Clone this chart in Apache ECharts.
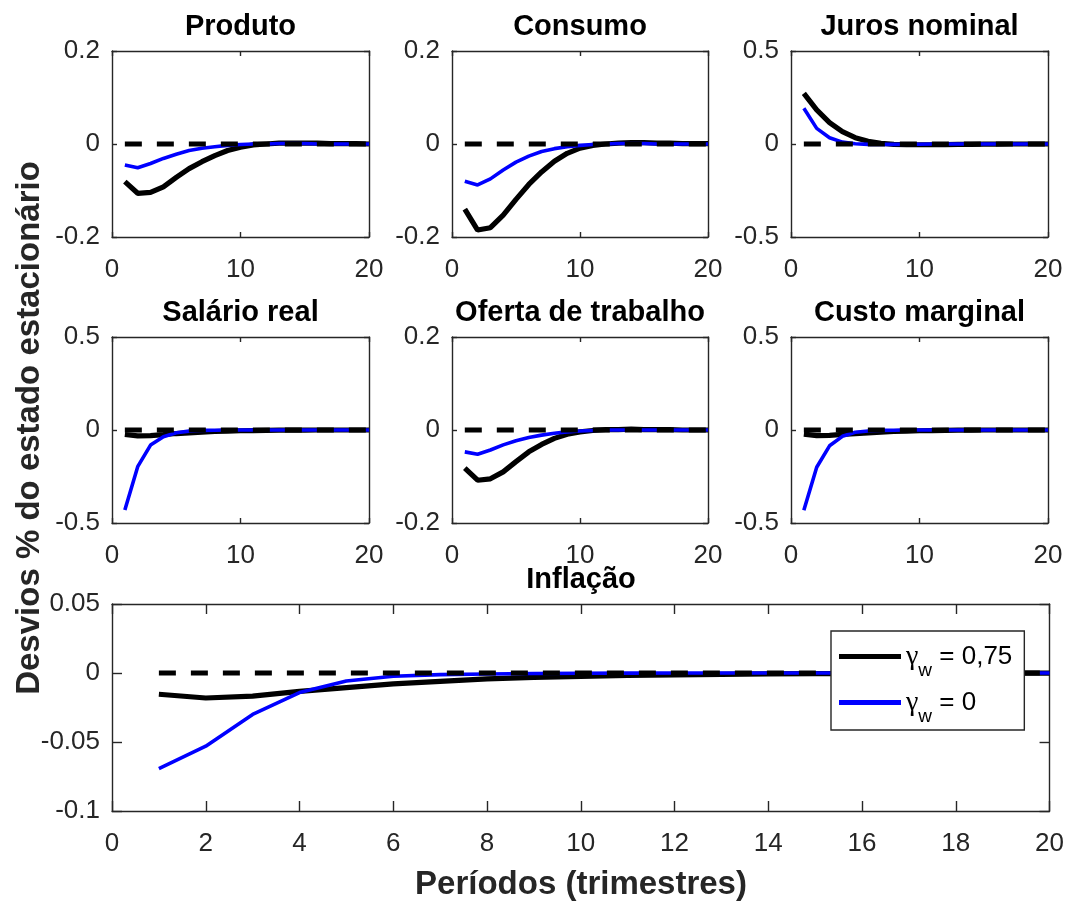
<!DOCTYPE html>
<html><head><meta charset="utf-8">
<script src="https://cdn.jsdelivr.net/npm/echarts@6/dist/echarts.min.js"></script>
<style>html,body{margin:0;padding:0;background:#fff}#c{width:1067px;height:901px}</style>
</head><body><div id="c"></div>
<script>
// ---------- data ----------
const periods = [1,2,3,4,5,6,7,8,9,10,11,12,13,14,15,16,17,18,19,20];
const zeroLine = [0,0,0,0,0,0,0,0,0,0,0,0,0,0,0,0,0,0,0,0];
const seriesNames = ['γw = 0,75', 'γw = 0'];
const panelTitles = ['Produto','Consumo','Juros nominal','Salário real','Oferta de trabalho','Custo marginal','Inflação'];
const yAxisTitle = 'Desvios % do estado estacionário';
const xAxisTitle = 'Períodos (trimestres)';

const produtoBlack = [-0.081,-0.106,-0.104,-0.092,-0.072,-0.053,-0.038,-0.025,-0.014,-0.007,-0.002,0.000,0.002,0.002,0.002,0.002,0.001,0.001,0.001,0.000];
const produtoBlue  = [-0.045,-0.051,-0.042,-0.031,-0.022,-0.014,-0.009,-0.006,-0.003,-0.001,0.000,0.000,0.001,0.001,0.001,0.000,0.000,0.000,0.000,0.000];
const consumoBlack = [-0.140,-0.185,-0.180,-0.153,-0.119,-0.087,-0.060,-0.037,-0.020,-0.009,-0.003,0.000,0.002,0.003,0.003,0.002,0.002,0.001,0.001,0.001];
const consumoBlue  = [-0.080,-0.088,-0.075,-0.056,-0.039,-0.026,-0.016,-0.010,-0.006,-0.003,-0.001,0.000,0.001,0.001,0.001,0.000,0.000,0.000,0.000,0.000];
const jurosBlack   = [0.272,0.183,0.115,0.066,0.034,0.015,0.004,-0.002,-0.004,-0.004,-0.004,-0.003,-0.002,-0.002,-0.001,-0.001,0.000,0.000,0.000,0.000];
const jurosBlue    = [0.192,0.084,0.034,0.010,0.001,-0.002,-0.002,-0.002,-0.001,-0.001,0.000,0.000,0.000,0.000,0.000,0.000,0.000,0.000,0.000,0.000];
const salarioBlack = [-0.024,-0.032,-0.030,-0.025,-0.019,-0.015,-0.011,-0.008,-0.006,-0.004,-0.003,-0.002,-0.001,-0.001,-0.001,0.000,0.000,0.000,0.000,0.000];
const salarioBlue  = [-0.430,-0.197,-0.081,-0.036,-0.015,-0.006,-0.002,-0.001,0.000,0.000,0.000,0.000,0.000,0.000,0.000,0.000,0.000,0.000,0.000,0.000];
const ofertaBlack  = [-0.082,-0.108,-0.105,-0.090,-0.068,-0.047,-0.031,-0.018,-0.009,-0.004,-0.001,0.001,0.001,0.002,0.001,0.001,0.001,0.000,0.000,0.000];
const ofertaBlue   = [-0.047,-0.052,-0.043,-0.032,-0.023,-0.016,-0.011,-0.007,-0.004,-0.002,-0.001,0.000,0.000,0.000,0.000,0.000,0.000,0.000,0.000,0.000];
const custoBlack   = [-0.022,-0.030,-0.029,-0.024,-0.019,-0.015,-0.011,-0.008,-0.006,-0.004,-0.003,-0.002,-0.001,-0.001,0.000,0.000,0.000,0.000,0.000,0.000];
const custoBlue    = [-0.432,-0.200,-0.085,-0.034,-0.012,-0.005,-0.002,-0.001,0.000,0.000,0.000,0.000,0.000,0.000,0.000,0.000,0.000,0.000,0.000,0.000];
const inflacaoBlack= [-0.0154,-0.0181,-0.0167,-0.0133,-0.0106,-0.0079,-0.0060,-0.0043,-0.0032,-0.0024,-0.0018,-0.0013,-0.0010,-0.0007,-0.0005,-0.0004,-0.0003,-0.0002,-0.0001,-0.0001];
const inflacaoBlue = [-0.0693,-0.0530,-0.0300,-0.0142,-0.0058,-0.0024,-0.0012,-0.0007,-0.0004,-0.0002,-0.0001,0.0000,0.0000,0.0000,0.0000,0.0000,0.0000,0.0000,0.0000,0.0000];

// y axis ranges [min, max, interval] and x axis ranges [min, max, interval]
const yRanges = [[-0.2,0.2,0.2],[-0.2,0.2,0.2],[-0.5,0.5,0.5],[-0.5,0.5,0.5],[-0.2,0.2,0.2],[-0.5,0.5,0.5],[-0.1,0.05,0.05]];
const xRanges = [[0,20,10],[0,20,10],[0,20,10],[0,20,10],[0,20,10],[0,20,10],[0,20,2]];

const panelBlack = [produtoBlack, consumoBlack, jurosBlack, salarioBlack, ofertaBlack, custoBlack, inflacaoBlack];
const panelBlue  = [produtoBlue, consumoBlue, jurosBlue, salarioBlue, ofertaBlue, custoBlue, inflacaoBlue];

// ---------- layout ----------
const FONT = 'Liberation Sans';
const AX = '#262626';
const grids = [
  {left:112, top:51, width:257, height:186},
  {left:452, top:51, width:256, height:186},
  {left:791, top:51, width:257, height:186},
  {left:112, top:337, width:257, height:186},
  {left:452, top:337, width:256, height:186},
  {left:791, top:337, width:257, height:186},
  {left:112, top:604, width:938, height:207}
];

const pairs = (ys) => periods.map((p, i) => [p, ys[i]]);

const xAxes = [], yAxes = [], series = [], graphics = [];
grids.forEach((g, i) => {
  const tickLen = i === 6 ? 10 : 5;
  const lineStyle = {color: AX, width: 1.4};
  const base = {
    type: 'value', gridIndex: i, splitLine: {show: false},
    axisLine: {show: true, onZero: false, lineStyle},
    axisTick: {show: true, inside: true, length: tickLen, lineStyle: {color: AX, width: 1.4}},
    silent: true
  };
  const [xmin, xmax, xint] = xRanges[i];
  const [ymin, ymax, yint] = yRanges[i];
  xAxes.push(Object.assign({}, base, {position: 'bottom', min: xmin, max: xmax, interval: xint,
    axisLabel: {show: true, color: AX, fontSize: 26, fontFamily: FONT, margin: 20, showMinLabel: true, showMaxLabel: true}}));
  xAxes.push(Object.assign({}, base, {position: 'top', min: xmin, max: xmax, interval: xint, axisLabel: {show: false}}));
  yAxes.push(Object.assign({}, base, {position: 'left', min: ymin, max: ymax, interval: yint,
    axisLabel: {show: true, color: AX, fontSize: 26, fontFamily: FONT, margin: 12, showMinLabel: true, showMaxLabel: true}}));
  yAxes.push(Object.assign({}, base, {position: 'right', min: ymin, max: ymax, interval: yint, axisLabel: {show: false}}));

  const common = {type: 'line', xAxisIndex: 2*i, yAxisIndex: 2*i, symbol: 'none', showSymbol: false, animation: false, silent: true};
  series.push(Object.assign({}, common, {name: seriesNames[0], data: pairs(panelBlack[i]),
    lineStyle: {color: '#000000', width: 5.2}, itemStyle: {color: '#000000'}, z: 2}));
  series.push(Object.assign({}, common, {name: seriesNames[1], data: pairs(panelBlue[i]),
    lineStyle: {color: '#0000ff', width: 3.6}, itemStyle: {color: '#0000ff'}, z: 3}));
  series.push(Object.assign({}, common, {name: 'zero', data: pairs(zeroLine),
    lineStyle: {color: '#000000', width: 5, type: [17, 15], cap: 'butt'}, itemStyle: {color: '#000000'}, z: 4}));

  graphics.push({type: 'text', x: g.left + g.width / 2, y: g.top - 24, silent: true,
    style: {text: panelTitles[i], fontSize: 29, fontWeight: 'bold', fontFamily: FONT, fill: '#000', align: 'center', verticalAlign: 'middle'}});
});

graphics.push({type: 'text', x: 30, y: 428, rotation: Math.PI / 2, silent: true,
  style: {text: yAxisTitle, fontSize: 33, fontWeight: 'bold', fontFamily: FONT, fill: AX, align: 'center', verticalAlign: 'middle'}});
graphics.push({type: 'text', x: 581, y: 885, silent: true,
  style: {text: xAxisTitle, fontSize: 33, fontWeight: 'bold', fontFamily: FONT, fill: AX, align: 'center', verticalAlign: 'middle'}});

const legendLabels = {};
legendLabels[seriesNames[0]] = '{g|γ}{s|w}{t| = 0,75}';
legendLabels[seriesNames[1]] = '{g|γ}{s|w}{t| = 0}';

const chart = echarts.init(document.getElementById('c'), null, {renderer: 'canvas'});
chart.setOption({
  animation: false,
  backgroundColor: '#ffffff',
  grid: grids.map(g => Object.assign({containLabel: false, show: false}, g)),
  xAxis: xAxes,
  yAxis: yAxes,
  series: series,
  legend: {
    z: 20, zlevel: 0,
    data: seriesNames.map(n => ({name: n, icon: 'rect'})),
    left: 831, top: 631,
    orient: 'vertical',
    itemWidth: 62, itemHeight: 5, itemGap: -1,
    padding: [2, 12, 4, 8],
    backgroundColor: '#ffffff',
    borderColor: AX, borderWidth: 1.4, borderRadius: 0,
    selectedMode: false,
    formatter: name => legendLabels[name],
    textStyle: {
      color: '#000', fontFamily: FONT, fontSize: 26, lineHeight: 34,
      rich: {
        g: {fontFamily: 'Liberation Serif', fontSize: 28, lineHeight: 34, color: '#000'},
        s: {fontFamily: FONT, fontSize: 19, lineHeight: 20, padding: [28, 0, 0, 0], color: '#000'},
        t: {fontFamily: FONT, fontSize: 26, lineHeight: 34, color: '#000'}
      }
    }
  },
  graphic: graphics
});
</script></body></html>
